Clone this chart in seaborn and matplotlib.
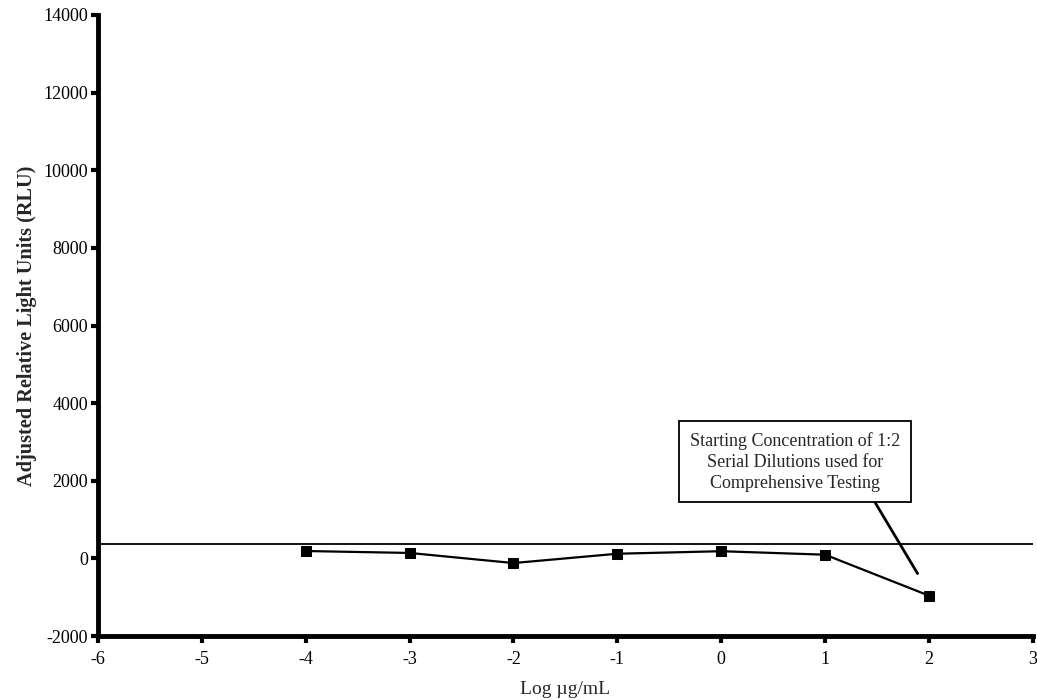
import matplotlib.pyplot as plt
import pandas as pd
import seaborn as sns

# data
log_conc = [-4, -3, -2, -1, 0, 1, 2]
rlu = [190, 140, -120, 120, 185, 95, -960]
cutoff = 380

df = pd.DataFrame({'LogConc': log_conc, 'RLU': rlu})

sns.set_theme(style="ticks")
plt.rcParams['font.family'] = ['Liberation Serif', 'DejaVu Serif']
plt.rcParams['axes.unicode_minus'] = False

fig = plt.figure(figsize=(10.37, 7), dpi=100)
ax = fig.add_axes([0.0945, 0.0914, 0.9015, 0.8872])

sns.lineplot(data=df, x='LogConc', y='RLU', color='black', marker='s',
             markersize=7, markeredgecolor='black', linewidth=1.6, ax=ax)
ax.axhline(cutoff, color='black', linewidth=1.3)

ax.set_xlim(-6, 3)
ax.set_ylim(-2000, 14000)
ax.set_xticks(range(-6, 4))
ax.set_yticks(range(-2000, 14001, 2000))
ax.set_xlabel('Log µg/mL', fontsize=14, labelpad=9)
ax.set_ylabel('Adjusted Relative Light Units (RLU)', fontsize=14.6, fontweight='bold',
              labelpad=5)
ax.tick_params(axis='x', pad=6)
ax.tick_params(axis='y', pad=2)
ax.tick_params(axis='both', labelsize=13, width=3, length=5, direction='out',
               color='black', labelcolor='black')
for side in ['left', 'bottom']:
    ax.spines[side].set_linewidth(3.5)
    ax.spines[side].set_color('black')
sns.despine(ax=ax)

ax.annotate('Starting Concentration of 1:2\nSerial Dilutions used for\nComprehensive Testing',
            xy=(1.89, -390), xytext=(0.71, 2490), fontsize=13, ha='center', va='center',
            linespacing=1.3,
            bbox=dict(boxstyle='square,pad=0.6', fc='white', ec='black', lw=1.3),
            arrowprops=dict(arrowstyle='-', color='black', lw=2, shrinkA=0, shrinkB=0,
                            relpos=(0.85, 0)))

fig.savefig('out.png', dpi=100)
